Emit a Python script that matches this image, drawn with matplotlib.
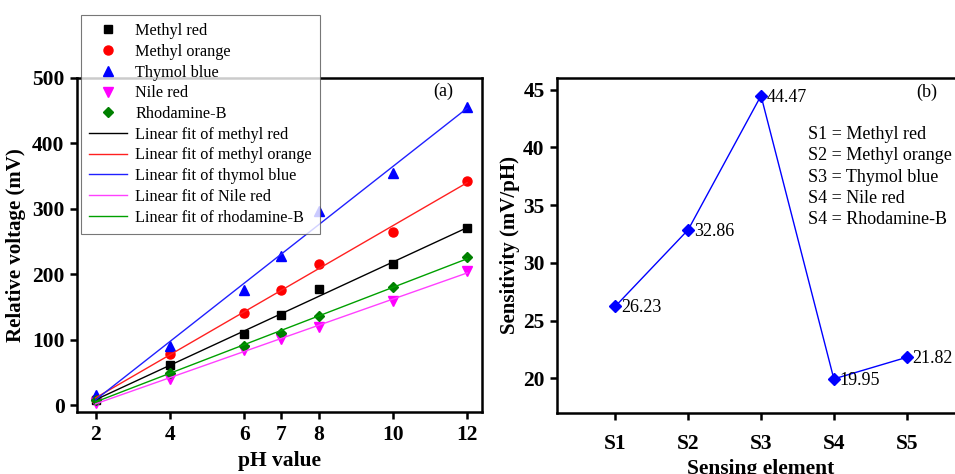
import numpy as np
import matplotlib
matplotlib.use("Agg")
import matplotlib.pyplot as plt

plt.rcParams['font.family'] = ['Liberation Serif', 'DejaVu Serif']

# panel (a) data
ph = [2, 4, 6, 7, 8, 10, 12]
methyl_red = [9, 61, 109, 138, 177, 216, 270]
methyl_orange = [10, 79, 141, 176, 216, 265, 343]
thymol_blue = [16, 90, 176, 228, 296, 355, 456]
nile_red = [4, 41, 84, 102, 120, 160, 205]
rhodamine_b = [8, 49, 91, 111, 137, 180, 226]

dye_names = ['Methyl red', 'Methyl orange', 'Thymol blue', 'Nile red', 'Rhodamine-B']
fit_names = ['methyl red', 'methyl orange', 'thymol blue', 'Nile red', 'rhodamine-B']

# panel (b) data
elements = ['S1', 'S2', 'S3', 'S4', 'S5']
sensitivity = [26.23, 32.86, 44.47, 19.95, 21.82]
element_notes = ['S1 = Methyl red', 'S2 = Methyl orange', 'S3 = Thymol blue',
                 'S4 = Nile red', 'S4 = Rhodamine-B']

W, H = 955, 474
fig = plt.figure(figsize=(W / 100, H / 100), dpi=100)


def px_axes(x0, y0, x1, y1):
    # pixel box (top-left origin) -> figure fraction
    return fig.add_axes([x0 / W, 1 - y1 / H, (x1 - x0) / W, (y1 - y0) / H])


def px_text(x, y, s, **kw):
    return fig.text(x / W, 1 - y / H, s, **kw)


def style_axes(ax, xpad=4):
    for s in ax.spines.values():
        s.set_linewidth(1.8)
    ax.tick_params(direction='out', length=5, width=1.8, labelsize=15.5, pad=4)
    ax.tick_params(axis='x', pad=xpad)
    for lab in ax.get_xticklabels() + ax.get_yticklabels():
        lab.set_fontweight('bold')


# ---- (a) ----
ax1 = px_axes(77, 77.7, 482, 412)
series = [methyl_red, methyl_orange, thymol_blue, nile_red, rhodamine_b]
markers = ['s', 'o', '^', 'v', 'D']
colors = ['black', 'red', 'blue', 'magenta', '#008000']
line_colors = ['black', '#ff2020', '#2020ff', '#ff40ff', '#00a000']
sizes = [5.5, 6.5, 7.5, 7.5, 5.5]

pts, fits = [], []
for vals, m, c, ms, name in zip(series, markers, colors, sizes, dye_names):
    h, = ax1.plot(ph, vals, linestyle='none', marker=m, color=c, markersize=ms, label=name)
    pts.append(h)
xfit = np.array([min(ph), max(ph)])
for vals, c, name in zip(series, line_colors, fit_names):
    k, b = np.polyfit(ph, vals, 1)
    h, = ax1.plot(xfit, k * xfit + b, color=c, linewidth=1.0, label='Linear fit of ' + name)
    fits.append(h)

ax1.set_xlim(1.5, 12.4)
ax1.set_ylim(-10, 500)
ax1.set_xticks(ph)
ax1.set_yticks([0, 100, 200, 300, 400, 500])
style_axes(ax1)
ax1.set_xlabel('pH value', fontsize=15.5, fontweight='bold', labelpad=5)
ax1.set_ylabel('Relative voltage (mV)', fontsize=15, fontweight='bold', labelpad=4)
px_text(443, 91, '(a)', fontsize=13, ha='center', va='center')

leg = fig.legend(pts + fits, [h.get_label() for h in pts + fits],
                 loc='upper left', bbox_to_anchor=(81 / W, 1 - 15 / H),
                 borderaxespad=0, fontsize=11.7, numpoints=1,
                 handlelength=2.3, handletextpad=0.55,
                 labelspacing=0.29, borderpad=0.5, frameon=True, fancybox=False)
leg.get_frame().set_edgecolor('#555555')
leg.get_frame().set_linewidth(0.8)

# ---- (b) ----
ax2 = px_axes(557, 78, 965, 413)
xs = np.arange(1, len(elements) + 1)
ax2.plot(xs, sensitivity, color='blue', linewidth=1.0, marker='D', markersize=6.5)
for x, v in zip(xs, sensitivity):
    ax2.annotate(f'{v:.2f}', (x, v), xytext=(4, -1), textcoords='offset points',
                 fontsize=13, ha='left', va='center')
ax2.set_xlim(0.2, 5.8)
ax2.set_ylim(17, 46)
ax2.set_xticks(xs)
ax2.set_xticklabels(elements)
ax2.set_yticks([20, 25, 30, 35, 40, 45])
style_axes(ax2, xpad=10)
ax2.set_xlabel('Sensing element', fontsize=15.5, fontweight='bold', labelpad=4)
ax2.set_ylabel('Sensitivity (mV/pH)', fontsize=15, fontweight='bold', labelpad=2)
px_text(927, 92, '(b)', fontsize=13, ha='center', va='center')
px_text(808, 126, '\n'.join(element_notes), fontsize=13,
        ha='left', va='top', linespacing=1.33)

fig.savefig('out.png', dpi=100)
